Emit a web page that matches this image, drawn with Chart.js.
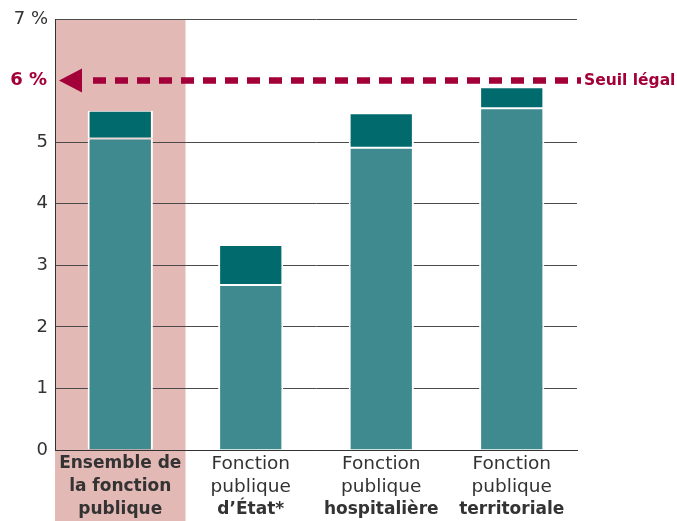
<!DOCTYPE html>
<html><head><meta charset="utf-8">
<script src="https://cdn.jsdelivr.net/npm/chart.js@4"></script>
<style>html,body{margin:0;padding:0;background:#fff}#w{width:677px;height:521px}</style>
</head><body><div id="w"><canvas id="c" width="677" height="521"></canvas></div>
<script>
const categories = ["Ensemble de la fonction publique", "Fonction publique d'État*", "Fonction publique hospitalière", "Fonction publique territoriale"];
const labelLinesNormal = [[], ["Fonction", "publique"], ["Fonction", "publique"], ["Fonction", "publique"]];
const labelLinesBold = [["Ensemble de", "la fonction", "publique"], ["d’État*"], ["hospitalière"], ["territoriale"]];
const seriesLower = [5.06, 2.68, 4.91, 5.55];
const seriesUpper = [0.45, 0.65, 0.56, 0.34];
const yTickLabels = {0:"0",1:"1",2:"2",3:"3",4:"4",5:"5",6:"",7:"7 %"};
const thresholdValue = 6;
const thresholdLabel = "6 %";
const thresholdText = "Seuil légal";

const FONT = "'DejaVu Sans', sans-serif";
const RED = "#A3003A";
const TXT = "#333333";

const overlay = {
  id: "overlay",
  beforeDraw(chart) {
    const {ctx, chartArea, scales} = chart;
    const x = scales.x;
    const half = (x.getPixelForValue(1) - x.getPixelForValue(0)) / 2;
    const l = x.getPixelForValue(0) - half;
    ctx.save();
    ctx.fillStyle = "#E3B9B5";
    ctx.fillRect(l, chartArea.top, 2 * half, chart.height - chartArea.top);
    ctx.restore();
  },
  afterDraw(chart) {
    const {ctx, chartArea, scales} = chart;
    const x = scales.x, y = scales.y;
    ctx.save();
    ctx.textAlign = "center";
    ctx.textBaseline = "middle";
    ctx.fillStyle = TXT;
    const lh = 23;
    categories.forEach((c, i) => {
      const cx = x.getPixelForValue(i);
      let yy = chartArea.bottom + 14;
      labelLinesNormal[i].forEach(t => { ctx.font = "18.5px " + FONT; ctx.fillText(t, cx, yy); yy += lh; });
      labelLinesBold[i].forEach(t => { ctx.font = "bold 17px " + FONT; ctx.fillText(t, cx, yy); yy += lh; });
    });
    const ty = y.getPixelForValue(thresholdValue);
    ctx.strokeStyle = RED;
    ctx.fillStyle = RED;
    ctx.lineWidth = 6.5;
    ctx.setLineDash([13, 9]);
    ctx.beginPath();
    ctx.moveTo(93, ty);
    ctx.lineTo(581, ty);
    ctx.stroke();
    ctx.setLineDash([]);
    ctx.beginPath();
    ctx.moveTo(chartArea.left + 4, ty);
    ctx.lineTo(chartArea.left + 27, ty - 12);
    ctx.lineTo(chartArea.left + 27, ty + 12);
    ctx.closePath();
    ctx.fill();
    ctx.font = "bold 18px " + FONT;
    ctx.textAlign = "right";
    ctx.fillText(thresholdLabel, chartArea.left - 8, ty);
    ctx.font = "bold 15.5px " + FONT;
    ctx.textAlign = "left";
    ctx.fillText(thresholdText, 584, ty);
    ctx.restore();
  }
};

new Chart(document.getElementById("c"), {
  type: "bar",
  data: {
    labels: categories,
    datasets: [
      { data: seriesLower, backgroundColor: "#3E8A8F", borderColor: "#ffffff", borderWidth: {left: 2, right: 2, top: 1, bottom: 0}, borderSkipped: false },
      { data: seriesUpper, backgroundColor: "#006A6D", borderColor: "#ffffff", borderWidth: {left: 2, right: 2, top: 1, bottom: 1}, borderSkipped: false }
    ]
  },
  options: {
    responsive: false,
    animation: false,
    devicePixelRatio: 1,
    layout: { padding: { top: 19, right: 100, left: 0, bottom: 0 } },
    plugins: { legend: { display: false }, tooltip: { enabled: false } },
    datasets: { bar: { barPercentage: 0.5, categoryPercentage: 1 } },
    scales: {
      x: {
        stacked: true,
        grid: { display: false, drawTicks: false },
        border: { display: true, color: "#333", width: 1 },
        ticks: { display: false },
        afterFit(s) { s.height = 71; }
      },
      y: {
        stacked: true,
        min: 0, max: 7,
        grid: { color: c => (c.tick && c.tick.value === thresholdValue) ? "rgba(0,0,0,0)" : "#4a4a4a", lineWidth: 1, drawTicks: false },
        border: { display: true, color: "#333", width: 1 },
        ticks: {
          stepSize: 1,
          padding: 7,
          color: TXT,
          font: { family: FONT, size: 18 },
          callback: v => yTickLabels[v]
        },
        afterFit(s) { s.width = 55; }
      }
    }
  },
  plugins: [overlay]
});
</script></body></html>
